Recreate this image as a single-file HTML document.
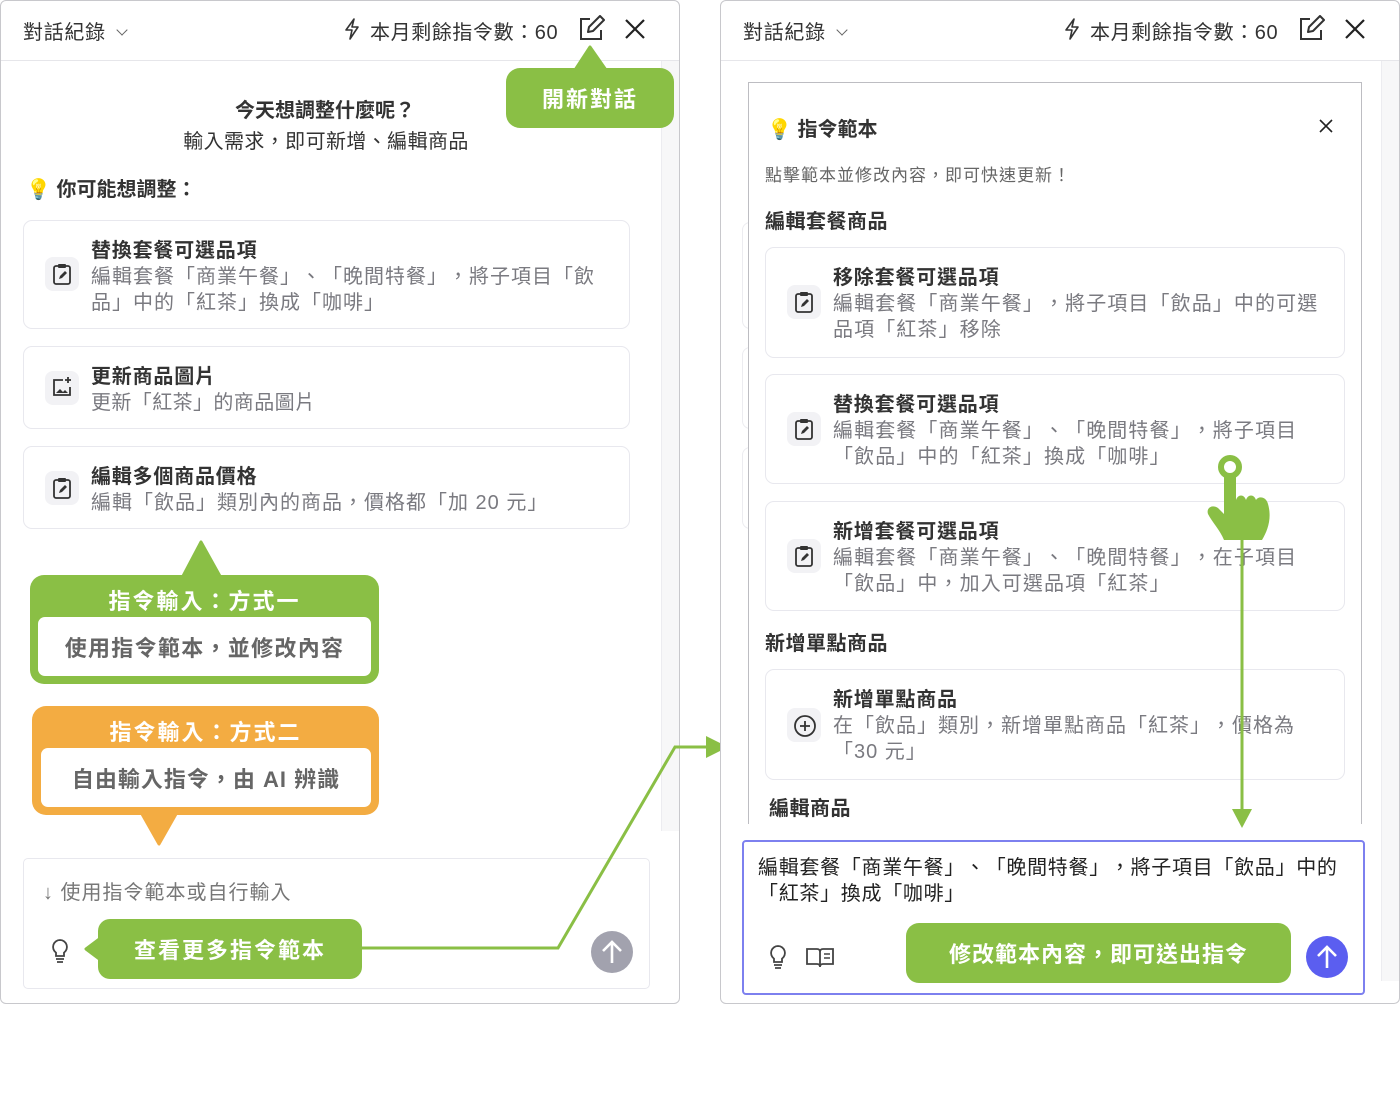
<!DOCTYPE html>
<html><head><meta charset="utf-8"><style>
*{margin:0;padding:0;box-sizing:border-box}
body{width:1400px;height:1113px;background:#fff;position:relative;overflow:hidden;font-family:"Liberation Sans","Noto Sans CJK TC",sans-serif;color:#333;text-spacing-trim:space-all}
.a{position:absolute}
.panel{border:1px solid #c8c8cc;border-radius:6px;background:#fff}
.hdr{border-bottom:1px solid #e6e6ea}
.t{white-space:nowrap}
.card{position:absolute;border:1.5px solid #e8e8ee;border-radius:9px;background:#fff}
.ib{position:absolute;width:34px;height:34px;border-radius:8px;background:#f2f2f5}
.ct{position:absolute;font-size:20px;font-weight:bold;color:#333;white-space:nowrap;letter-spacing:0.8px}
.cd{position:absolute;font-size:20px;color:#7a7a80;line-height:26px;white-space:nowrap;letter-spacing:1px}
.cr{letter-spacing:1.1px}
.g{background:#8abf45}
.big{font-size:22px;font-weight:bold;letter-spacing:2px}
.chev{display:inline-block;width:8px;height:8px;border-right:1.5px solid #666;border-bottom:1.5px solid #666;transform:rotate(45deg);margin-left:12px;position:relative;top:-5px}
</style></head><body>

<!-- LEFT PANEL -->
<div class="a panel" style="left:0;top:0;width:680px;height:1004px"></div>
<div class="a hdr" style="left:1px;top:60px;width:678px;height:1px"></div>
<div class="a" style="left:661px;top:61px;width:18px;height:770px;background:#f7f7f8;border-left:1px solid #ececf0"></div>
<div class="a t" style="left:23px;top:16px;font-size:20px;color:#333;letter-spacing:0.7px">對話紀錄<span class="chev"></span></div>
<svg class="a" style="left:342px;top:17px" width="20" height="24" viewBox="0 0 20 24"><path d="M12 2 L4 13 H10 L8 22 L16 10 H10 Z" fill="none" stroke="#333" stroke-width="1.6" stroke-linejoin="round"/></svg>
<div class="a t" style="left:370px;top:16px;font-size:20px;color:#333;letter-spacing:0.6px">本月剩餘指令數：60</div>
<svg class="a" style="left:577px;top:15px" width="28" height="28" viewBox="0 0 28 28"><path d="M13 4H4v20h20v-9" fill="none" stroke="#333" stroke-width="2"/><path d="M11 17l1-5 11-11 4 4-11 11z" fill="none" stroke="#333" stroke-width="2" stroke-linejoin="round"/></svg>
<svg class="a" style="left:624px;top:18px" width="22" height="22" viewBox="0 0 22 22"><path d="M2 2L20 20M20 2L2 20" stroke="#222" stroke-width="2.2"/></svg>

<div class="a t" style="left:0;width:650px;text-align:center;top:94px;font-size:20px;font-weight:bold;color:#333">今天想調整什麼呢？</div>
<div class="a t" style="left:0;width:652px;text-align:center;top:125px;font-size:20px;color:#333;letter-spacing:0.4px">輸入需求，即可新增、編輯商品</div>
<div class="a t" style="left:26px;top:173px;font-size:20px;font-weight:bold;color:#333">💡 你可能想調整：</div>

<div class="card" style="left:23px;top:220px;width:607px;height:109px"></div>
<div class="ib" style="left:45px;top:257px"></div>
<svg class="a" style="left:51px;top:262px" width="22" height="24" viewBox="0 0 22 24"><rect x="3" y="4" width="16" height="18" rx="2" fill="none" stroke="#333" stroke-width="1.8"/><rect x="7" y="2" width="8" height="4" rx="1" fill="#333"/><path d="M8 17l1-3 5-5 2 2-5 5z" fill="#333"/></svg>
<div class="ct" style="left:91px;top:234px">替換套餐可選品項</div>
<div class="cd" style="left:91px;top:264px">編輯套餐「商業午餐」、「晚間特餐」，將子項目「飲<br>品」中的「紅茶」換成「咖啡」</div>

<div class="card" style="left:23px;top:346px;width:607px;height:83px"></div>
<div class="ib" style="left:45px;top:371px"></div>
<svg class="a" style="left:51px;top:376px" width="22" height="22" viewBox="0 0 22 22"><path d="M12 4H3v15h16v-8" fill="none" stroke="#333" stroke-width="1.8"/><path d="M17 1v6M14 4h6" stroke="#333" stroke-width="1.8"/><path d="M5 17l4-4 3 3 2-2 3 3z" fill="#333"/></svg>
<div class="ct" style="left:91px;top:360px">更新商品圖片</div>
<div class="cd" style="left:91px;top:390px;letter-spacing:0.4px">更新「紅茶」的商品圖片</div>

<div class="card" style="left:23px;top:446px;width:607px;height:83px"></div>
<div class="ib" style="left:45px;top:471px"></div>
<svg class="a" style="left:51px;top:476px" width="22" height="24" viewBox="0 0 22 24"><rect x="3" y="4" width="16" height="18" rx="2" fill="none" stroke="#333" stroke-width="1.8"/><rect x="7" y="2" width="8" height="4" rx="1" fill="#333"/><path d="M8 17l1-3 5-5 2 2-5 5z" fill="#333"/></svg>
<div class="ct" style="left:91px;top:460px">編輯多個商品價格</div>
<div class="cd" style="left:91px;top:490px;letter-spacing:1px">編輯「飲品」類別內的商品，價格都「加 20 元」</div>

<!-- callout 1 green -->
<svg class="a" style="left:180px;top:540px" width="44" height="40"><path d="M21 2 L41 38 H2 Z" fill="#8abf45" stroke="#8abf45" stroke-linejoin="round" stroke-width="3"/></svg>
<div class="a g" style="left:30px;top:575px;width:349px;height:109px;border-radius:14px"></div>
<div class="a t big" style="left:30px;width:349px;text-align:center;top:584px;color:#fff">指令輸入：方式一</div>
<div class="a" style="left:38px;top:617px;width:333px;height:59px;background:#fff;border-radius:7px"></div>
<div class="a t big" style="left:38px;width:333px;text-align:center;top:631px;color:#666;letter-spacing:1.3px">使用指令範本，並修改內容</div>

<!-- callout 2 orange -->
<div class="a" style="left:32px;top:706px;width:347px;height:109px;border-radius:14px;background:#f3ac42"></div>
<svg class="a" style="left:138px;top:812px" width="42" height="36"><path d="M4 2 H38 L21 32 Z" fill="#f3ac42" stroke="#f3ac42" stroke-linejoin="round" stroke-width="3"/></svg>
<div class="a t big" style="left:32px;width:347px;text-align:center;top:715px;color:#fff">指令輸入：方式二</div>
<div class="a" style="left:41px;top:748px;width:330px;height:59px;background:#fff;border-radius:7px"></div>
<div class="a t big" style="left:41px;width:330px;text-align:center;top:762px;color:#666;letter-spacing:1px">自由輸入指令，由 AI 辨識</div>

<!-- left input -->
<div class="a" style="left:23px;top:858px;width:627px;height:131px;border:1.5px solid #e8e8ee;border-radius:5px"></div>
<div class="a t" style="left:43px;top:876px;font-size:20px;color:#777;letter-spacing:1px"><span style="font-size:20px">↓</span> 使用指令範本或自行輸入</div>
<svg class="a" style="left:49px;top:937px" width="22" height="28" viewBox="0 0 22 28"><path d="M11 3a7 7 0 0 0-4 12.7V19h8v-3.3A7 7 0 0 0 11 3z" fill="none" stroke="#444" stroke-width="1.8"/><path d="M7 22h8M8 25h6" stroke="#444" stroke-width="1.8"/></svg>
<div class="a" style="left:591px;top:931px;width:42px;height:42px;border-radius:50%;background:#a2a2ae"></div>
<svg class="a" style="left:591px;top:931px" width="42" height="42"><path d="M21 32V11M12 20l9-9 9 9" fill="none" stroke="#fff" stroke-width="2.6"/></svg>

<!-- connector -->
<svg class="a" style="left:0;top:0" width="1400" height="1113">
<polyline points="340,948 558,948 675,747 710,747" fill="none" stroke="#8abf45" stroke-width="3"/>
<path d="M706 736 L728 747 L706 758 Z" fill="#8abf45"/>
</svg>

<!-- callout "查看更多" -->
<svg class="a" style="left:82px;top:935px" width="24" height="28"><path d="M20 2 L4 14 L20 26 Z" fill="#8abf45" stroke="#8abf45" stroke-width="3" stroke-linejoin="round"/></svg>
<div class="a g" style="left:98px;top:919px;width:264px;height:60px;border-radius:12px"></div>
<div class="a t big" style="left:98px;width:264px;text-align:center;top:933px;color:#fff">查看更多指令範本</div>

<!-- callout 開新對話 -->
<svg class="a" style="left:572px;top:44px" width="38" height="28"><path d="M18 3 L34 26 H3 Z" fill="#8abf45" stroke="#8abf45" stroke-width="3" stroke-linejoin="round"/></svg>
<div class="a g" style="left:506px;top:68px;width:168px;height:60px;border-radius:14px"></div>
<div class="a t big" style="left:506px;width:168px;text-align:center;top:82px;color:#fff">開新對話</div>

<!-- RIGHT PANEL -->
<div class="a panel" style="left:720px;top:0;width:680px;height:1004px"></div>
<div class="a hdr" style="left:721px;top:60px;width:678px;height:1px"></div>
<div class="a" style="left:1381px;top:61px;width:18px;height:920px;background:#f7f7f8;border-left:1px solid #ececf0"></div>
<div class="a t" style="left:743px;top:16px;font-size:20px;color:#333;letter-spacing:0.7px">對話紀錄<span class="chev"></span></div>
<svg class="a" style="left:1062px;top:17px" width="20" height="24" viewBox="0 0 20 24"><path d="M12 2 L4 13 H10 L8 22 L16 10 H10 Z" fill="none" stroke="#333" stroke-width="1.6" stroke-linejoin="round"/></svg>
<div class="a t" style="left:1090px;top:16px;font-size:20px;color:#333;letter-spacing:0.6px">本月剩餘指令數：60</div>
<svg class="a" style="left:1297px;top:15px" width="28" height="28" viewBox="0 0 28 28"><path d="M13 4H4v20h20v-9" fill="none" stroke="#333" stroke-width="2"/><path d="M11 17l1-5 11-11 4 4-11 11z" fill="none" stroke="#333" stroke-width="2" stroke-linejoin="round"/></svg>
<svg class="a" style="left:1344px;top:18px" width="22" height="22" viewBox="0 0 22 22"><path d="M2 2L20 20M20 2L2 20" stroke="#222" stroke-width="2.2"/></svg>

<!-- faded cards behind -->
<div class="a" style="left:742px;top:222px;width:30px;height:107px;border:1.5px solid #ececf0;border-radius:8px"></div>
<div class="a" style="left:742px;top:347px;width:30px;height:82px;border:1.5px solid #ececf0;border-radius:8px"></div>
<div class="a" style="left:742px;top:447px;width:30px;height:82px;border:1.5px solid #ececf0;border-radius:8px"></div>

<!-- modal -->
<div class="a" style="left:748px;top:82px;width:614px;height:745px;background:#fff;border:1px solid #bdbdc2;border-bottom:none"></div>
<div class="a t" style="left:767px;top:113px;font-size:20px;font-weight:bold;color:#333">💡 指令範本</div>
<svg class="a" style="left:1319px;top:119px" width="14" height="14"><path d="M1 1L13 13M13 1L1 13" stroke="#222" stroke-width="1.6"/></svg>
<div class="a t" style="left:765px;top:161px;font-size:17px;color:#666;letter-spacing:1px">點擊範本並修改內容，即可快速更新！</div>
<div class="a t" style="left:765px;top:205px;font-size:20px;font-weight:bold;color:#333;letter-spacing:0.5px">編輯套餐商品</div>

<div class="card" style="left:765px;top:247px;width:580px;height:111px"></div>
<div class="ib" style="left:787px;top:285px"></div>
<svg class="a" style="left:793px;top:290px" width="22" height="24" viewBox="0 0 22 24"><rect x="3" y="4" width="16" height="18" rx="2" fill="none" stroke="#333" stroke-width="1.8"/><rect x="7" y="2" width="8" height="4" rx="1" fill="#333"/><path d="M8 17l1-3 5-5 2 2-5 5z" fill="#333"/></svg>
<div class="ct" style="left:833px;top:261px">移除套餐可選品項</div>
<div class="cd cr" style="left:833px;top:291px">編輯套餐「商業午餐」，將子項目「飲品」中的可選<br>品項「紅茶」移除</div>

<div class="card" style="left:765px;top:374px;width:580px;height:110px"></div>
<div class="ib" style="left:787px;top:412px"></div>
<svg class="a" style="left:793px;top:417px" width="22" height="24" viewBox="0 0 22 24"><rect x="3" y="4" width="16" height="18" rx="2" fill="none" stroke="#333" stroke-width="1.8"/><rect x="7" y="2" width="8" height="4" rx="1" fill="#333"/><path d="M8 17l1-3 5-5 2 2-5 5z" fill="#333"/></svg>
<div class="ct" style="left:833px;top:388px">替換套餐可選品項</div>
<div class="cd cr" style="left:833px;top:418px">編輯套餐「商業午餐」、「晚間特餐」，將子項目<br>「飲品」中的「紅茶」換成「咖啡」</div>

<div class="card" style="left:765px;top:501px;width:580px;height:110px"></div>
<div class="ib" style="left:787px;top:539px"></div>
<svg class="a" style="left:793px;top:544px" width="22" height="24" viewBox="0 0 22 24"><rect x="3" y="4" width="16" height="18" rx="2" fill="none" stroke="#333" stroke-width="1.8"/><rect x="7" y="2" width="8" height="4" rx="1" fill="#333"/><path d="M8 17l1-3 5-5 2 2-5 5z" fill="#333"/></svg>
<div class="ct" style="left:833px;top:515px">新增套餐可選品項</div>
<div class="cd cr" style="left:833px;top:545px">編輯套餐「商業午餐」、「晚間特餐」，在子項目<br>「飲品」中，加入可選品項「紅茶」</div>

<div class="a t" style="left:765px;top:627px;font-size:20px;font-weight:bold;color:#333;letter-spacing:0.5px">新增單點商品</div>
<div class="card" style="left:765px;top:669px;width:580px;height:111px"></div>
<div class="ib" style="left:787px;top:708px"></div>
<svg class="a" style="left:793px;top:714px" width="24" height="24"><circle cx="12" cy="12" r="10" fill="none" stroke="#333" stroke-width="1.8"/><path d="M12 7v10M7 12h10" stroke="#333" stroke-width="1.8"/></svg>
<div class="ct" style="left:833px;top:683px">新增單點商品</div>
<div class="cd" style="left:833px;top:713px;letter-spacing:1px">在「飲品」類別，新增單點商品「紅茶」，價格為<br>「30 元」</div>
<div class="a t" style="left:769px;top:792px;font-size:20px;font-weight:bold;color:#333;letter-spacing:0.5px">編輯商品</div>
<div class="a" style="left:721px;top:824px;width:660px;height:14px;background:#fff"></div>

<!-- hand + arrow -->
<svg class="a" style="left:0;top:0" width="1400" height="1113">
<line x1="1242" y1="530" x2="1242" y2="812" stroke="#8abf45" stroke-width="3"/>
<path d="M1232 809 L1252 809 L1242 828 Z" fill="#8abf45"/>
<circle cx="1230" cy="467" r="9" fill="none" stroke="#8abf45" stroke-width="6"/>
<path d="M1224 474 H1236 V500 C1238 494 1244 494 1246 500 C1248 494 1254 494 1256 500 C1258 496 1266 496 1268 504 C1272 518 1268 530 1262 540 H1224 C1220 530 1212 522 1208 514 C1206 508 1212 504 1218 508 L1224 514 Z" fill="#8abf45"/>
</svg>

<!-- right input -->
<div class="a" style="left:742px;top:840px;width:623px;height:155px;border:2px solid #7d80ef;border-radius:4px;background:#fff"></div>
<div class="a" style="left:758px;top:855px;font-size:20px;color:#222;line-height:26px;white-space:nowrap;letter-spacing:0.7px">編輯套餐「商業午餐」、「晚間特餐」，將子項目「飲品」中的<br>「紅茶」換成「咖啡」</div>
<svg class="a" style="left:767px;top:943px" width="22" height="28" viewBox="0 0 22 28"><path d="M11 3a7 7 0 0 0-4 12.7V19h8v-3.3A7 7 0 0 0 11 3z" fill="none" stroke="#444" stroke-width="1.8"/><path d="M7 22h8M8 25h6" stroke="#444" stroke-width="1.8"/></svg>
<svg class="a" style="left:805px;top:945px" width="30" height="24" viewBox="0 0 30 24"><path d="M2 4h10c2 0 3 1 3 3v15c0-2-1-3-3-3H2zM28 4H18c-2 0-3 1-3 3v15c0-2 1-3 3-3h10z" fill="none" stroke="#444" stroke-width="1.8"/><path d="M19 9h6M19 13h6" stroke="#444" stroke-width="1.4"/></svg>
<div class="a g" style="left:906px;top:923px;width:385px;height:60px;border-radius:13px"></div>
<div class="a t big" style="left:906px;width:385px;text-align:center;top:937px;color:#fff;letter-spacing:1px">修改範本內容，即可送出指令</div>
<div class="a" style="left:1306px;top:936px;width:42px;height:42px;border-radius:50%;background:#5b5ef0"></div>
<svg class="a" style="left:1306px;top:936px" width="42" height="42"><path d="M21 32V11M12 20l9-9 9 9" fill="none" stroke="#fff" stroke-width="2.6"/></svg>

</body></html>
